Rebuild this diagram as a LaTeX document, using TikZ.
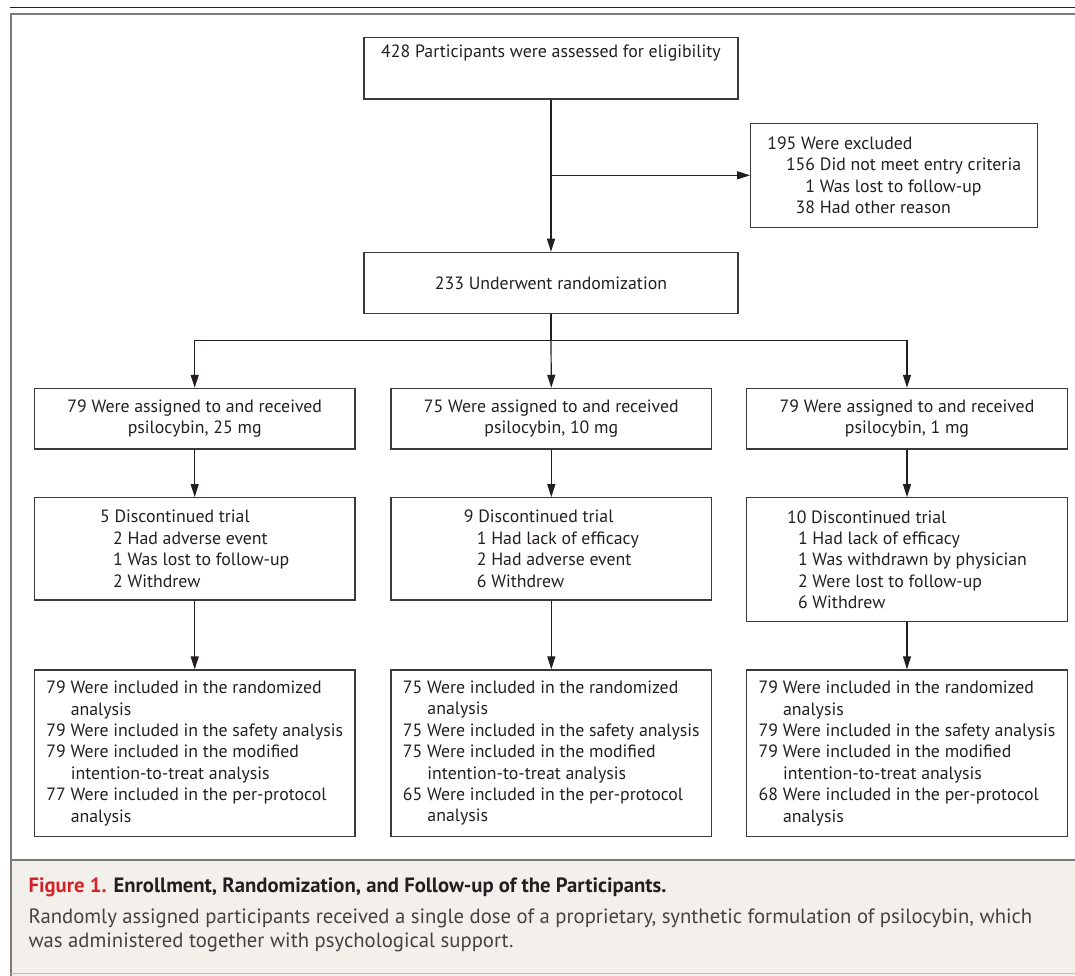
\documentclass[tikz,border=0pt]{standalone}
\usepackage{fontspec}
\setmainfont{PT Sans}
\usetikzlibrary{arrows.meta}
\definecolor{txt}{HTML}{231F20}
\definecolor{boxc}{HTML}{3A3A3A}
\definecolor{framec}{HTML}{7A7A7A}
\definecolor{capbg}{HTML}{F3F0EB}
\definecolor{nejmred}{HTML}{D2232A}
\newcommand\boxfont{\fontsize{17.8}{21.4}\selectfont}
\newcommand\capfont{\fontsize{20.7}{24}\selectfont}
\tikzset{
  box/.style={draw=boxc, line width=1.2pt, inner sep=0pt, align=left, font=\boxfont, text=txt},
  conn/.style={draw=txt, line width=1.2pt},
  arr/.style={conn, -{Triangle[length=13pt,width=8pt]}},
  captext/.style={anchor=base west, inner sep=0pt, font=\capfont}
}
\begin{document}
\begin{tikzpicture}[x=1pt,y=-1pt]
\useasboundingbox (0,0) rectangle (1075,975);
% page rules and frame
\draw[draw=txt, line width=1.5pt] (10,7.3) -- (1075,7.3);
\fill[capbg] (11,860) rectangle (1076,976);
\draw[draw=framec, line width=2pt] (1077,14) -- (11,14) -- (11,976);
\draw[draw=framec, line width=2pt] (11,860) -- (1077,860);
\draw[draw=framec!50, line width=1pt] (11,973.5) -- (1077,973.5);

% nodes
\node[box, minimum width=374pt, minimum height=61.3pt, text height=19.6pt, text depth=41.7pt] (top) at (551,68.35)
  {428 Participants were assessed for eligibility};
\node[box, minimum width=287pt, minimum height=104pt] (excl) at (894.2,175.3)
  {195 Were excluded\\
   \hspace*{18.7pt}156 Did not meet entry criteria\\
   \hspace*{18.7pt}\phantom{00}1 Was lost to follow-up\\
   \hspace*{18.7pt}\phantom{0}38 Had other reason};
\node[box, minimum width=374pt, minimum height=61pt] (rand) at (551,282.8)
  {233 Underwent randomization};

\node[box, align=center, minimum width=320.7pt, minimum height=60.7pt] (a1) at (194.7,418.7)
  {79 Were assigned to and received\\psilocybin, 25 mg};
\node[box, align=center, minimum width=320.7pt, minimum height=60.7pt] (a2) at (551.3,418.7)
  {75 Were assigned to and received\\psilocybin, 10 mg};
\node[box, align=center, minimum width=320.7pt, minimum height=60.7pt] (a3) at (907,418.7)
  {79 Were assigned to and received\\psilocybin, 1 mg};

\node[box, minimum width=320.7pt, minimum height=102.3pt] (d1) at (194.7,548.8)
  {5 Discontinued trial\\
   \hspace*{13pt}2 Had adverse event\\
   \hspace*{13pt}1 Was lost to follow-up\\
   \hspace*{13pt}2 Withdrew};
\node[box, minimum width=320.7pt, minimum height=102.3pt] (d2) at (551.3,548.8)
  {9 Discontinued trial\\
   \hspace*{13pt}1 Had lack of efficacy\\
   \hspace*{13pt}2 Had adverse event\\
   \hspace*{13pt}6 Withdrew};
\node[box, minimum width=320.7pt, minimum height=124pt] (d3) at (907,559.7)
  {10 Discontinued trial\\
   \hspace*{11pt}1 Had lack of efficacy\\
   \hspace*{11pt}1 Was withdrawn by physician\\
   \hspace*{11pt}2 Were lost to follow-up\\
   \hspace*{11pt}6 Withdrew};

\node[box, minimum width=320.7pt, minimum height=166.7pt] (f1) at (194.7,753.3)
  {79 Were included in the randomized\\
   \hspace*{24.5pt}analysis\\
   79 Were included in the safety analysis\\
   79 Were included in the modified\\
   \hspace*{24.5pt}intention-to-treat analysis\\
   77 Were included in the per-protocol\\
   \hspace*{24.5pt}analysis};
\node[box, minimum width=320.7pt, minimum height=166.7pt] (f2) at (551.3,753.3)
  {75 Were included in the randomized\\
   \hspace*{24.5pt}analysis\\
   75 Were included in the safety analysis\\
   75 Were included in the modified\\
   \hspace*{24.5pt}intention-to-treat analysis\\
   65 Were included in the per-protocol\\
   \hspace*{24.5pt}analysis};
\node[box, minimum width=320.7pt, minimum height=166.7pt] (f3) at (907,753.3)
  {79 Were included in the randomized\\
   \hspace*{24.5pt}analysis\\
   79 Were included in the safety analysis\\
   79 Were included in the modified\\
   \hspace*{24.5pt}intention-to-treat analysis\\
   68 Were included in the per-protocol\\
   \hspace*{24.5pt}analysis};

% connectors
\coordinate (split) at (551,340.5);
\draw[arr] (top.south) -- (rand.north);
\draw[arr] (top.south |- excl.west) -- (excl.west);
\draw[conn] (rand.south) -- (split);
\draw[arr] (split) -- (a2.north);
\draw[arr] (split) -| (a1.north);
\draw[arr] (split) -| (a3.north);
\draw[arr] (a1.south) -- (d1.north);
\draw[arr] (a2.south) -- (d2.north);
\draw[arr] (a3.south) -- (d3.north);
\draw[arr] (d1.south) -- (f1.north);
\draw[arr] (d2.south) -- (f2.north);
\draw[arr] (d3.south) -- (f3.north);

% caption
\node[captext, text=txt] (captitle) at (28.3,892.3)
  {\textbf{\textcolor{nejmred}{Figure 1.} Enrollment, Randomization, and Follow-up of the Participants.}};
\node[captext, text=txt!85] (capbodya) at (28.3,923.3)
  {Randomly assigned participants received a single dose of a proprietary, synthetic formulation of psilocybin, which};
\node[captext, text=txt!85] (capbodyb) at (28.3,947.3)
  {was administered together with psychological support.};
\end{tikzpicture}
\end{document}
